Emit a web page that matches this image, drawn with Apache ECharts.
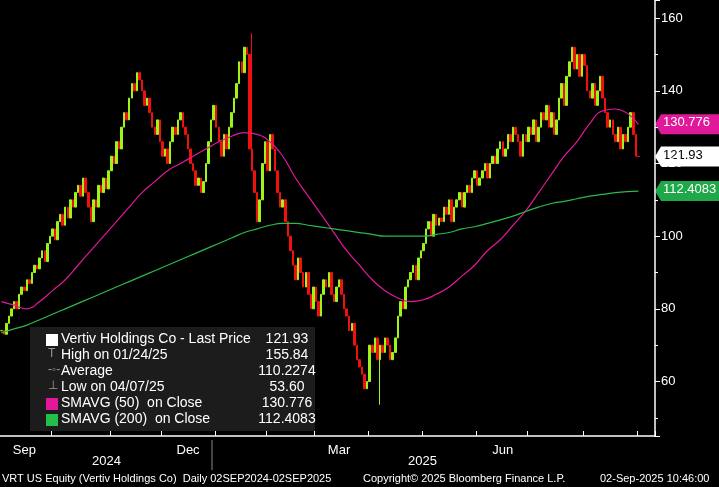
<!DOCTYPE html>
<html><head><meta charset="utf-8">
<script src="https://cdn.jsdelivr.net/npm/echarts@6/dist/echarts.min.js"></script>
<style>html,body{margin:0;background:#000}#main{width:719px;height:487px}</style>
</head><body><div id="main"></div>
<script>
// daily closes (Sep 2024 - Sep 2025)
var closes = [
  74,73,76,78,80, 82,80,84,86,85, 88,87,90,92,91, 94,96,93,98,100,
  102,99,104,106,103, 108,105,110,108,112, 114,111,116,112,108, 104,110,108,114,112,
  116,113,118,122,120, 126,124,130,134,132, 138,142,140,145,143, 140,136,138,134,130,
  128,132,126,122,124, 120,126,130,128,132, 134,130,128,124,120, 118,114,116,112,115,
  120,126,132,136,130, 126,122,128,124,130, 134,138,142,148,145, 152,150,124,118,112,
  104,110,120,126,118, 128,124,118,112,108, 110,104,100,96,92, 88,94,90,86,90,
  84,80,86,82,78, 84,88,86,90,84, 82,86,88,84,80, 78,74,76,70,66,
  64,62,58,60,70, 68,72,66,70,68, 72,70,66,68,72, 78,82,80,86,88,
  90,92,88,94,96, 98,102,104,100,106,103,105, 104,108,106,110,104, 108,110,112,108,112,
  114,112,116,118,114, 116,118,120,116,120, 122,120,124,126,122, 124,128,126,130,128,
  126,122,128,126,130, 128,132,126,130,134, 132,136,130,134,128, 132,138,142,136,144,
  148,152,146,150,144,150,147, 140,138,142,136,140, 144,138,134,130,132, 128,126,130,124,128,
  126,130,134,128,122, 121.93
];
// moving averages, one value per week (every 5th day), last = final day
var sma50 = [82,81,80,82,85,88,92,96,100,104,108,112,115,118,120,122,124,126,127.5,128.5,
  128,126,122,116,111,106,101,96,92,88,85,83,82,82.5,84,86,89,92,96,99,
  103,107,112,117,122,126,131,134.5,135,130.776];
var sma200 = [73.4,74.5,75.5,77,78.5,80,81.5,83,84.5,86,87.5,89,90.5,92,93.5,95,96.5,98,99.5,101,
  102,103,103.5,103.5,103,102.5,102,101.5,101,100.5,100,100,100,100,100.5,101,102,102.6,103.5,104.5,
  105.5,106.8,108,109,109.6,110.3,111,111.5,112,112.4083];
var holidays = ['2024-11-28','2024-12-25','2025-01-01','2025-01-09','2025-01-20','2025-02-17',
  '2025-04-18','2025-05-26','2025-06-19','2025-07-04','2025-09-01'];
var highNote = {date: '2025-01-24', value: 155.84};
var lowNote = {date: '2025-04-07', value: 53.60};
var lastPrice = 121.93, avgPrice = 110.2274, lastSma50 = 130.776, lastSma200 = 112.4083;
var monthNames = ['Jan','Feb','Mar','Apr','May','Jun','Jul','Aug','Sep','Oct','Nov','Dec'];

// trading days from 03 Sep 2024
var dates = [];
var d = new Date(Date.UTC(2024, 8, 3));
while (dates.length < closes.length) {
  var wd = d.getUTCDay(), s = d.toISOString().slice(0, 10);
  if (wd !== 0 && wd !== 6 && holidays.indexOf(s) < 0) dates.push(s);
  d.setUTCDate(d.getUTCDate() + 1);
}
var candles = closes.map(function (c, i) {
  var o = i ? closes[i - 1] : c;
  var lo = Math.min(o, c), hi = Math.max(o, c);
  if (dates[i] === highNote.date) hi = highNote.value;
  if (dates[i] === lowNote.date) lo = lowNote.value;
  return [o, c, lo, hi];
});
function weekPoints(arr) {
  return arr.map(function (v, k) {
    var idx = k === arr.length - 1 ? dates.length - 1 : k * 5;
    return [dates[idx], v];
  });
}

var labelMonths = {8: 1, 11: 1, 2: 1, 5: 1};
function firstOfMonth(i) {
  return i > 0 && i < dates.length && dates[i].slice(5, 7) !== dates[i - 1].slice(5, 7);
}
function midOfMonth(i) {
  return i < dates.length && dates[i].slice(8) >= '14' && (i === 0 || dates[i - 1].slice(8) < '14');
}

var myChart = echarts.init(document.getElementById('main'));
var option = {
  backgroundColor: '#000',
  animation: false,
  grid: {left: 0, right: 64, top: 0, bottom: 51},
  xAxis: {
    type: 'category', data: dates, boundaryGap: true, max: dates.length + 5,
    axisLine: {lineStyle: {color: '#fff', width: 1.5}},
    axisTick: {show: true, inside: true, length: 5, lineStyle: {color: '#fff'},
      interval: function (i) { return firstOfMonth(i); }},
    axisLabel: {
      color: '#fff', fontFamily: 'Arial', fontSize: 13, margin: 8,
      interval: function (i) { return midOfMonth(i); },
      formatter: function (v) {
        if (!v) return '';
        var m = parseInt(v.slice(5, 7), 10) - 1;
        return labelMonths[m] ? monthNames[m] : '';
      }
    },
    splitLine: {show: false}
  },
  yAxis: {
    type: 'value', position: 'right', min: 45, max: 165, splitNumber: 6,
    axisLine: {show: true, lineStyle: {color: '#fff', width: 1.5}},
    axisTick: {show: true, lineStyle: {color: '#fff'}},
    minorTick: {show: true, splitNumber: 2, lineStyle: {color: '#fff'}},
    axisLabel: {color: '#fff', fontFamily: 'Arial', fontSize: 13, margin: 6,
      showMinLabel: false, showMaxLabel: false},
    splitLine: {show: false}
  },
  series: [
    {type: 'candlestick', data: candles, barWidth: 2,
      itemStyle: {color: '#9cf516', color0: '#f01010', borderColor: '#9cf516', borderColor0: '#f01010', borderWidth: 1}},
    {type: 'line', data: weekPoints(sma50), showSymbol: false, smooth: true, lineStyle: {color: '#e0189a', width: 1.2}},
    {type: 'line', data: weekPoints(sma200), showSymbol: false, smooth: true, lineStyle: {color: '#2cb84a', width: 1.2}}
  ]
};
myChart.setOption(option);

function tagAt(value, text, bg, fg) {
  var y = myChart.convertToPixel({yAxisIndex: 0}, value);
  return {type: 'group', x: 655, y: y, children: [
    {type: 'polygon', shape: {points: [[0, 0], [6, -10], [64, -10], [64, 10], [6, 10]]}, style: {fill: bg}},
    {type: 'text', x: 8, y: -8, style: {text: text, fill: fg, font: '13px Arial'}}
  ]};
}
var legendRows = [
  ['Vertiv Holdings Co - Last Price', lastPrice.toFixed(2), '#fff'],
  ['High on 01/24/25', highNote.value.toFixed(2), null],
  ['Average', String(avgPrice), null],
  ['Low on 04/07/25', lowNote.value.toFixed(2), null],
  ['SMAVG (50)  on Close', String(lastSma50), '#e0189a'],
  ['SMAVG (200)  on Close', String(lastSma200), '#22c04a']
];
var legendChildren = [{type: 'rect', shape: {x: 0, y: 0, width: 285, height: 104}, style: {fill: '#1c1c1c'}}];
legendRows.forEach(function (r, i) {
  var y = 5 + i * 16;
  if (r[2]) legendChildren.push({type: 'rect', shape: {x: 16, y: y + 2, width: 12, height: 12}, style: {fill: r[2]}});
  else legendChildren.push({type: 'text', x: 18, y: y, style: {text: i === 2 ? '-◦-' : (i === 1 ? 'T' : '⊥'), fill: '#999', font: '12px Arial'}});
  legendChildren.push({type: 'text', x: 31, y: y, style: {text: r[0], fill: '#fff', font: '14px Arial'}});
  legendChildren.push({type: 'text', x: 257, y: y, style: {text: r[1], fill: '#fff', font: '14px Arial', align: 'center'}});
});
myChart.setOption({graphic: [
  {type: 'group', x: 30, y: 327, children: legendChildren},
  tagAt(lastSma50, '130.776', '#e0189a', '#fff'),
  tagAt(lastPrice, '121.93', '#fff', '#000'),
  tagAt(lastSma200, '112.4083', '#1fa84a', '#fff'),
  {type: 'text', x: 92, y: 455, style: {text: '2024', fill: '#fff', font: '13px Arial'}},
  {type: 'text', x: 408, y: 455, style: {text: '2025', fill: '#fff', font: '13px Arial'}},
  {type: 'line', shape: {x1: 212, y1: 440, x2: 212, y2: 470}, style: {stroke: '#888'}},
  {type: 'text', x: 2, y: 473, style: {text: 'VRT US Equity (Vertiv Holdings Co)  Daily 02SEP2024-02SEP2025', fill: '#fff', font: '11px Arial'}},
  {type: 'text', x: 363, y: 473, style: {text: 'Copyright\u00a9 2025 Bloomberg Finance L.P.', fill: '#fff', font: '11px Arial'}},
  {type: 'text', x: 600, y: 473, style: {text: '02-Sep-2025 10:46:00', fill: '#fff', font: '11px Arial'}}
]});
</script></body></html>
